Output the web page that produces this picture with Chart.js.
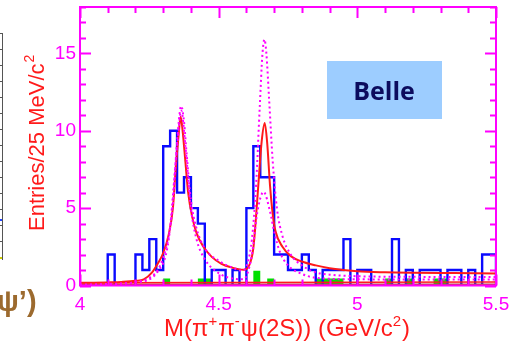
<!DOCTYPE html>
<html lang="en">
<head>
<meta charset="UTF-8">
<title>Belle M(pi pi psi(2S))</title>
<script src="https://cdn.jsdelivr.net/npm/chart.js"></script>
<style>
  body { margin: 0; background: #fff; }
  canvas { display: block; }
</style>
</head>
<body>
<canvas id="grafico" width="522" height="344"></canvas>
<script>
// histogram: 60 bins of 25 MeV from 4.0 to 5.5 GeV
const binStart = 4.0;
const binWidth = 0.025;
const counts = [0,0,0,0,0,2,0,0,0,2, 1,3,1,9,10,6,7,5,4,0, 1,1,0,1,0,5,9,7,7,2,
                2,1,1,2,1,0,1,1,1,3, 0,1,1,0,0,0,3,0,1,0, 1,1,1,0,1,1,0,1,0,2];
// sideband background (green)
const bkgCounts = [0,0,0,0,0,0,0,0,0,0, 0,0,0,0.45,0,0,0,0,0.45,0.45, 0,0,0,0,0,0,0.95,0,0.45,0,
                   0,0,0,0,0,0.45,0.45,0.45,0.45,0, 0,0,0,0,0,0.45,0,0,0.45,0, 0,0,0.45,0.45,0,0,0,0,0,0];

// total fit (red)
const fitX = [4.00,4.05,4.10,4.15,4.20,4.23,4.26,4.28,4.30,4.32,4.335,4.345,4.355,4.363,4.37,4.38,4.39,4.405,4.42,4.445,4.475,4.51,4.55,4.59,
              4.61,4.625,4.635,4.645,4.655,4.666,4.675,4.685,4.695,4.705,4.73,4.76,4.80,4.85,4.90,5.00,5.10,5.20,5.35,5.50];
const fitY = [0.17,0.18,0.2,0.23,0.3,0.4,0.85,1.4,2.1,3.3,5.0,7.5,9.6,10.9,10.0,8.0,6.0,4.4,3.4,2.5,1.85,1.4,1.15,1.02,
              1.3,2.4,4.5,7.0,9.3,10.5,9.2,6.5,4.6,3.5,2.5,1.9,1.55,1.3,1.12,0.92,0.85,0.82,0.8,0.78];
// background lines (red, flat)
const bgX = [4.0, 5.5];
const bgY1 = [0.17, 0.22];
const bgY2 = [0.08, 0.08];

// solution curves (magenta dotted)
const solAX = [4.00,4.10,4.20,4.25,4.28,4.30,4.32,4.335,4.35,4.365,4.375,4.385,4.40,4.42,4.45,4.50,4.55,4.585,4.605,4.62,4.635,4.648,4.658,4.665,
               4.672,4.682,4.695,4.71,4.73,4.76,4.80,4.85,4.90,5.00,5.20,5.50];
const solAY = [0.05,0.1,0.22,0.5,1.0,1.8,3.2,5.3,9.3,11.6,10.6,8.4,5.5,3.7,2.4,1.6,1.15,0.95,1.5,3.0,6.5,11.5,15.0,15.9,
               15.0,12.0,8.0,5.0,3.2,2.0,1.3,0.85,0.7,0.6,0.56,0.55];
const solBX = [4.00,4.20,4.28,4.32,4.35,4.365,4.38,4.40,4.42,4.45,4.50,4.55,4.59,4.60,4.62,4.64,4.662,4.685,4.70,4.72,4.75,4.80,4.85,5.00,5.50];
const solBY = [0.03,0.2,0.9,3.0,9.0,11.3,9.0,5.0,3.0,1.7,0.8,0.45,0.4,0.6,2.0,4.8,6.05,4.8,3.5,2.2,1.3,0.75,0.5,0.4,0.38];

const MAG = '#ff00ff';
const RED = '#ff1a1a';

function pontos(xs, ys) {
    return xs.map((x, i) => ({ x: x, y: ys[i] }));
}
function degraus(valores) {
    const p = valores.map((v, i) => ({ x: binStart + i * binWidth, y: v }));
    const fim = binStart + valores.length * binWidth;
    p.push({ x: fim, y: valores[valores.length - 1] });
    p.push({ x: fim, y: 0 });
    return p;
}
function semMargem(s) {
    s.paddingTop = 0; s.paddingBottom = 0; s.paddingLeft = 0; s.paddingRight = 0;
}

// inward ticks, frame and the extra text of the figure
const moldura = {
    id: 'moldura',
    afterDatasetsDraw(chart) {
        const ctx = chart.ctx;
        const a = chart.chartArea;
        const xs = chart.scales.x, ys = chart.scales.y;
        ctx.save();
        ctx.strokeStyle = MAG;
        ctx.lineWidth = 2;
        ctx.beginPath();
        xs.ticks.forEach(t => {
            const px = Math.round(xs.getPixelForValue(t.value)) + 0.5;
            const maior = Math.abs(t.value * 2 - Math.round(t.value * 2)) < 1e-6;
            const len = maior ? 11 : 6;
            ctx.moveTo(px, a.top); ctx.lineTo(px, a.top + len);
            ctx.moveTo(px, a.bottom); ctx.lineTo(px, a.bottom - len);
        });
        ys.ticks.forEach(t => {
            const py = Math.round(ys.getPixelForValue(t.value)) + 0.5;
            const len = t.value % 5 === 0 ? 11 : 6;
            ctx.moveTo(a.left, py); ctx.lineTo(a.left + len, py);
            ctx.moveTo(a.right, py); ctx.lineTo(a.right - len, py);
        });
        ctx.stroke();
        ctx.strokeRect(a.left, a.top, a.right - a.left, a.bottom - a.top);
        ctx.restore();
    },
    afterDraw(chart) {
        const ctx = chart.ctx;
        ctx.save();
        // Belle box
        ctx.fillStyle = '#9dcdff';
        ctx.fillRect(327, 61, 115, 58);
        ctx.fillStyle = '#0c0c5e';
        ctx.font = 'bold 25px "Open Sans"';
        ctx.textAlign = 'center';
        ctx.textBaseline = 'alphabetic';
        ctx.fillText('Belle', 384, 100);

        // y title
        ctx.fillStyle = RED;
        ctx.textAlign = 'left';
        ctx.translate(44, 231);
        ctx.rotate(-Math.PI / 2);
        ctx.font = '22px "Liberation Sans"';
        const t1 = 'Entries/25 MeV/c';
        ctx.fillText(t1, 0, 0);
        const w1 = ctx.measureText(t1).width;
        ctx.font = '14px "Liberation Sans"';
        ctx.fillText('2', w1 + 1, -10);
        ctx.setTransform(1, 0, 0, 1, 0, 0);

        // x title with superscripts
        const partes = [['M(π', 0], ['+', 1], ['π', 0], ['-', 1], ['ψ(2S)) (GeV/c', 0], ['2', 1], [')', 0]];
        const fonte = s => s ? '15px "Liberation Sans"' : '24px "Liberation Sans"';
        let total = 0;
        partes.forEach(p => { ctx.font = fonte(p[1]); total += ctx.measureText(p[0]).width + (p[1] ? 1 : 0); });
        let x = 287 - total / 2;
        partes.forEach(p => {
            ctx.font = fonte(p[1]);
            ctx.fillText(p[0], x, p[1] ? 326 : 336);
            x += ctx.measureText(p[0]).width + (p[1] ? 1 : 0);
        });

        // remains of the neighbouring figure on the left
        ctx.strokeStyle = '#555';
        ctx.lineWidth = 1;
        ctx.beginPath();
        ctx.moveTo(2.5, 33); ctx.lineTo(2.5, 260);
        ctx.moveTo(0, 33.5); ctx.lineTo(3, 33.5);
        for (let y = 49; y < 260; y += 16) { ctx.moveTo(0, y + 0.5); ctx.lineTo(2, y + 0.5); }
        ctx.stroke();
        ctx.fillStyle = '#2244ff';
        ctx.fillRect(0, 219, 2, 2);
        ctx.fillStyle = '#cccc00';
        ctx.fillRect(0, 257, 2, 2);
        ctx.fillStyle = '#9c6a2e';
        ctx.font = 'bold 29px "Liberation Sans"';
        ctx.fillText('ψ\u2019)', -3, 311);
        ctx.restore();
    }
};

const ctx = document.getElementById('grafico').getContext('2d');
const grafico = new Chart(ctx, {
    type: 'line',
    data: {
        datasets: [
            { data: pontos(solAX, solAY), borderColor: MAG, borderWidth: 2, borderDash: [2, 3],
              cubicInterpolationMode: 'monotone', pointRadius: 0 },
            { data: pontos(solBX, solBY), borderColor: MAG, borderWidth: 2, borderDash: [2, 3],
              cubicInterpolationMode: 'monotone', pointRadius: 0 },
            { data: pontos(fitX, fitY), borderColor: RED, borderWidth: 2,
              cubicInterpolationMode: 'monotone', pointRadius: 0 },
            { data: pontos(bgX, bgY1), borderColor: RED, borderWidth: 1.5, pointRadius: 0 },
            { data: pontos(bgX, bgY2), borderColor: '#c04040', borderWidth: 1.5, pointRadius: 0 },
            { data: degraus(counts), borderColor: '#0a0aff', borderWidth: 2.4, stepped: 'after',
              pointRadius: 0 },
            { data: degraus(bkgCounts), borderWidth: 0, borderColor: 'rgba(0,0,0,0)', stepped: 'after',
              fill: 'origin', backgroundColor: '#00e000', pointRadius: 0 }
        ]
    },
    options: {
        responsive: false,
        animation: false,
        devicePixelRatio: 1,
        layout: { padding: { top: 7, right: 26, left: 0, bottom: 0 } },
        plugins: { legend: { display: false }, tooltip: { enabled: false } },
        scales: {
            x: {
                type: 'linear', min: 4, max: 5.5,
                grid: { display: false, drawTicks: false },
                border: { display: false },
                afterFit(s) { s.height = 58.5; semMargem(s); },
                ticks: {
                    stepSize: 0.1, autoSkip: false, maxRotation: 0, padding: 8,
                    color: MAG, font: { family: 'Liberation Sans', size: 19 },
                    callback(v) {
                        return Math.abs(v * 2 - Math.round(v * 2)) < 1e-6 ? String(Math.round(v * 2) / 2) : '';
                    }
                }
            },
            y: {
                min: 0, max: 18,
                grid: { display: false, drawTicks: false },
                border: { display: false },
                afterFit(s) { s.width = 80; semMargem(s); },
                ticks: {
                    stepSize: 1, autoSkip: false, padding: 4,
                    color: MAG, font: { family: 'Liberation Sans', size: 19 },
                    callback(v) { return v % 5 === 0 && v < 18 ? String(v) : ''; }
                }
            }
        }
    },
    plugins: [moldura]
});
</script>
</body>
</html>
